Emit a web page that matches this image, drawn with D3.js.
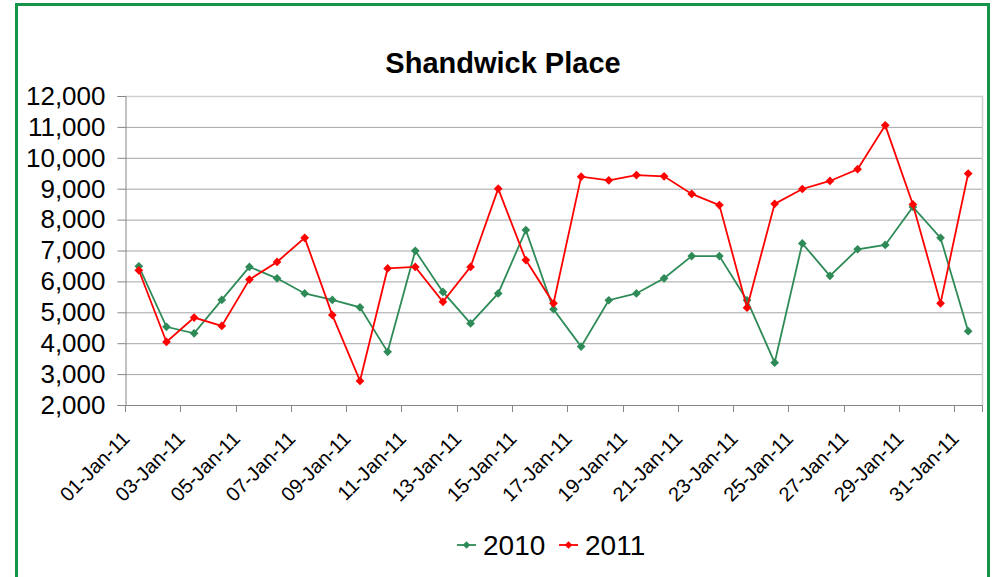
<!DOCTYPE html>
<html>
<head>
<meta charset="utf-8">
<script src="https://cdn.jsdelivr.net/npm/d3@7"></script>
<style>
	body { margin: 0; background: #ffffff; }
	svg text { font-family: "Liberation Sans", Arial, sans-serif; fill: #000000; }
</style>
</head>
<body>
<div id="chart"></div>
<script>

var days = [
	"01-Jan-11", "02-Jan-11", "03-Jan-11", "04-Jan-11", "05-Jan-11", "06-Jan-11", "07-Jan-11", "08-Jan-11",
	"09-Jan-11", "10-Jan-11", "11-Jan-11", "12-Jan-11", "13-Jan-11", "14-Jan-11", "15-Jan-11", "16-Jan-11",
	"17-Jan-11", "18-Jan-11", "19-Jan-11", "20-Jan-11", "21-Jan-11", "22-Jan-11", "23-Jan-11", "24-Jan-11",
	"25-Jan-11", "26-Jan-11", "27-Jan-11", "28-Jan-11", "29-Jan-11", "30-Jan-11", "31-Jan-11"
];

var values2010 = [
	6490, 4530, 4320, 5400, 6470, 6100, 5610, 5400, 5160, 3720, 6990, 5660, 4640, 5610, 7660, 5100,
	3890, 5390, 5610, 6100, 6820, 6820, 5390, 3370, 7230, 6180, 7040, 7180, 8410, 7410, 4390
];

var values2011 = [
	6360, 4040, 4830, 4560, 6060, 6630, 7410, 4910, 2780, 6420, 6470, 5340, 6470, 9000, 6690, 5290,
	9390, 9270, 9440, 9400, 8830, 8470, 5150, 8510, 8990, 9250, 9630, 11050, 8490, 5290, 9490
];

var yTicks = [2000, 3000, 4000, 5000, 6000, 7000, 8000, 9000, 10000, 11000, 12000];

var seriesNames = ["2010", "2011"];
var seriesColors = ["#2e8b57", "#ff0000"];

var chartTitle = "Shandwick Place";


var SHANDWICK = (function(SHANDWICK, undefined)
{

	SHANDWICK.width = 993;
	SHANDWICK.height = 577;
	SHANDWICK.plot = {"left": 125, "right": 982, "top": 96, "bottom": 405};


	SHANDWICK.init = function()
	{
		var svg = d3.select("#chart").append("svg")
		.attr("width", SHANDWICK.width)
		.attr("height", SHANDWICK.height);

		svg.append("rect")
		.attr("width", SHANDWICK.width)
		.attr("height", SHANDWICK.height)
		.attr("fill", "#ffffff");

		// green frame round the whole chart, bottom edge is off the picture
		svg.append("rect")
		.attr("x", 16.5)
		.attr("y", 4.5)
		.attr("width", 972)
		.attr("height", 620)
		.attr("fill", "none")
		.attr("stroke", "#13944a")
		.attr("stroke-width", 3);

		svg.append("text")
		.attr("x", 503)
		.attr("y", 73)
		.attr("text-anchor", "middle")
		.style("font-size", "29px")
		.style("font-weight", "bold")
		.text(chartTitle);

		var series = [
			{"name": seriesNames[0], "color": seriesColors[0], "values": values2010},
			{"name": seriesNames[1], "color": seriesColors[1], "values": values2011}
		];

		var x = d3.scaleBand()
		.domain(days)
		.range([SHANDWICK.plot.left, SHANDWICK.plot.right])
		.padding(0);

		var y = d3.scaleLinear()
		.domain([2000, 12000])
		.range([SHANDWICK.plot.bottom, SHANDWICK.plot.top]);

		SHANDWICK.drawAxes(svg, x, y);
		SHANDWICK.drawSeries(svg, x, y, series);
		SHANDWICK.drawLegend(svg, series);
	}


	SHANDWICK.drawAxes = function(svg, x, y)
	{
		var p = SHANDWICK.plot;

		var grid = svg.append("g")
		.attr("class", "yGridLines")
		.attr("transform", "translate(" + p.left + ",0)")
		.call(d3.axisLeft(y).tickValues(yTicks).tickSize(-(p.right - p.left)).tickFormat(""));

		grid.select(".domain").remove();
		grid.selectAll("line")
		.attr("stroke", "#a6a6a6")
		.attr("stroke-width", 1);

		// plot area border, top and right
		svg.append("path")
		.attr("d", "M" + p.left + "," + (p.top + 0.5) + "H" + (p.right + 0.5) + "V" + p.bottom)
		.attr("fill", "none")
		.attr("stroke", "#d0d0d0")
		.attr("stroke-width", 1.5);

		var yAxis = svg.append("g")
		.attr("class", "sleuthYAxis")
		.attr("transform", "translate(" + (p.left + 0.5) + ",0)")
		.call(d3.axisLeft(y).tickValues(yTicks).tickSize(8).tickPadding(12).tickFormat(d3.format(",")));

		yAxis.select(".domain")
		.attr("stroke", "#868686");
		yAxis.selectAll("line")
		.attr("stroke", "#868686");
		yAxis.selectAll("text")
		.style("font-size", "26px")
		.attr("fill", "#000000");

		var xAxis = svg.append("g")
		.attr("class", "sleuthXAxis");

		xAxis.append("line")
		.attr("x1", p.left)
		.attr("x2", p.right)
		.attr("y1", p.bottom + 0.5)
		.attr("y2", p.bottom + 0.5)
		.attr("stroke", "#868686");

		var tickDays = days.filter(function(d, i) { return i % 2 == 0 });
		var tickPos = tickDays.map(function(d) { return x(d) }).concat([p.right]);

		xAxis.selectAll(".xTick")
		.data(tickPos)
		.enter().append("line")
		.attr("class", "xTick")
		.attr("x1", function(d) { return Math.round(d) + 0.5 })
		.attr("x2", function(d) { return Math.round(d) + 0.5 })
		.attr("y1", p.bottom)
		.attr("y2", p.bottom + 7)
		.attr("stroke", "#868686");

		xAxis.selectAll(".xLabel")
		.data(tickDays)
		.enter().append("text")
		.attr("class", "xLabel")
		.attr("text-anchor", "end")
		.attr("transform", function(d)
		{
			var cx = x(d) + x.bandwidth() / 2;
			return "translate(" + (cx - 8) + "," + (p.bottom + 35) + ") rotate(-45)";
		})
		.style("font-size", "20px")
		.text(function(d) { return d });
	}


	SHANDWICK.drawSeries = function(svg, x, y, series)
	{
		var line = d3.line()
		.x(function(d, i) { return x(days[i]) + x.bandwidth() / 2 })
		.y(function(d) { return y(d) });

		var diamond = d3.symbol().type(d3.symbolSquare).size(38);

		series.forEach(function(s)
		{
			var g = svg.append("g")
			.attr("class", "seriesLine");

			g.append("path")
			.datum(s.values)
			.attr("d", line)
			.attr("fill", "none")
			.attr("stroke", s.color)
			.attr("stroke-width", 1.8);

			g.selectAll(".marker")
			.data(s.values)
			.enter().append("path")
			.attr("class", "marker")
			.attr("d", diamond)
			.attr("transform", function(d, i)
			{
				return "translate(" + (x(days[i]) + x.bandwidth() / 2) + "," + y(d) + ") rotate(45)";
			})
			.attr("fill", s.color);
		});
	}


	SHANDWICK.drawLegend = function(svg, series)
	{
		var legendX = [457, 559];
		var legendY = 545;
		var diamond = d3.symbol().type(d3.symbolSquare).size(28);

		var legend = svg.append("g")
		.attr("class", "legend");

		var item = legend.selectAll(".legendItem")
		.data(series)
		.enter().append("g")
		.attr("class", "legendItem")
		.attr("transform", function(d, i) { return "translate(" + legendX[i] + "," + legendY + ")" });

		item.append("line")
		.attr("x1", 0)
		.attr("x2", 19)
		.attr("stroke", function(d) { return d.color })
		.attr("stroke-width", 1.8);

		item.append("path")
		.attr("d", diamond)
		.attr("transform", "translate(9.5,0) rotate(45)")
		.attr("fill", function(d) { return d.color });

		item.append("text")
		.attr("x", 26)
		.attr("y", 10)
		.style("font-size", "28px")
		.text(function(d) { return d.name });
	}


	return SHANDWICK;

}(SHANDWICK || {}));


SHANDWICK.init();

</script>
</body>
</html>
